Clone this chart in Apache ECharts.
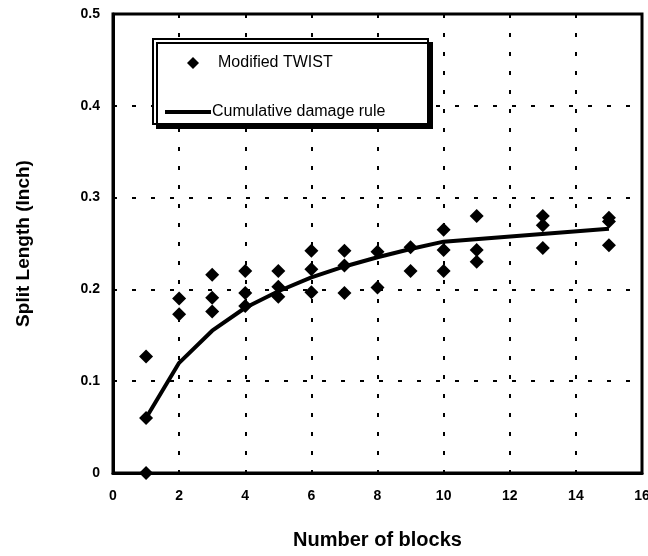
<!DOCTYPE html>
<html>
<head>
<meta charset="utf-8">
<script src="https://cdn.jsdelivr.net/npm/echarts@6/dist/echarts.min.js"></script>
<style>
html,body{margin:0;padding:0;background:#fff;}
#chart{width:648px;height:556px;}
</style>
</head>
<body>
<div id="chart"></div>
<script>
// Modified TWIST measurements: blocks and split length (inch)
const twistBlocks = [1,1,1, 2,2, 3,3,3, 4,4,4, 5,5,5, 6,6,6, 7,7,7, 8,8, 9,9, 10,10,10, 11,11,11, 13,13,13, 15,15,15];
const twistSplit  = [0.127,0.06,0.0, 0.19,0.173, 0.216,0.191,0.176, 0.22,0.196,0.182, 0.22,0.203,0.192, 0.242,0.222,0.197, 0.242,0.226,0.196, 0.241,0.202, 0.246,0.22, 0.265,0.243,0.22, 0.28,0.243,0.23, 0.28,0.27,0.245, 0.278,0.274,0.248];
// Cumulative damage rule curve
const ruleBlocks = [1,2,3,4,5,6,7,8,9,10,15];
const ruleSplit  = [0.06,0.12,0.155,0.18,0.198,0.213,0.225,0.235,0.244,0.252,0.266];
const seriesNames = ['Modified TWIST','Cumulative damage rule'];

const chart = echarts.init(document.getElementById('chart'), null, {renderer:'canvas'});
const font = '"Liberation Sans", Arial, sans-serif';
const dotted = {color:'#000', width:2, type:[4,15]};

chart.setOption({
  backgroundColor:'#fff',
  animation:false,
  grid:{left:113, right:6, top:14, bottom:83, show:true, borderColor:'#000', borderWidth:3,
        backgroundColor:'transparent', outerBoundsMode:'none', containLabel:false},
  xAxis:{
    type:'value', min:0, max:16, interval:2,
    name:'Number of blocks', nameLocation:'middle', nameGap:57,
    nameTextStyle:{fontFamily:font, fontWeight:'bold', fontSize:20, color:'#000'},
    axisLine:{show:true, lineStyle:{color:'#000', width:3}},
    axisTick:{show:false},
    axisLabel:{fontFamily:font, fontWeight:'bold', fontSize:14, color:'#000', margin:16},
    splitLine:{show:true, lineStyle:dotted}
  },
  yAxis:{
    type:'value', min:0, max:0.5, interval:0.1,
    name:'Split Length (Inch)', nameLocation:'middle', nameGap:80,
    nameTextStyle:{fontFamily:font, fontWeight:'bold', fontSize:19, color:'#000'},
    axisLine:{show:true, lineStyle:{color:'#000', width:3}},
    axisTick:{show:false},
    axisLabel:{fontFamily:font, fontWeight:'bold', fontSize:14, color:'#000', margin:13,
      formatter:function(v){return v===0?'0':v.toFixed(1);}},
    splitLine:{show:true, lineStyle:dotted}
  },
  graphic:[{
    type:'rect', left:152, top:38, z:50,
    shape:{width:275, height:85},
    style:{fill:'#fff', stroke:'#000', lineWidth:2, shadowColor:'#000', shadowOffsetX:4, shadowOffsetY:4, shadowBlur:0}
  }],
  legend:[{
    data:[{name:seriesNames[0], icon:'diamond'}],
    left:182, top:50, z:60, itemWidth:12, itemHeight:12,
    textStyle:{fontFamily:font, fontSize:16, color:'#000', padding:[0,0,0,14]}
  },{
    data:[{name:seriesNames[1], icon:'rect'}],
    left:160, top:99, z:60, itemWidth:46, itemHeight:4,
    textStyle:{fontFamily:font, fontSize:16, color:'#000', padding:[0,0,0,-4]}
  }],
  series:[{
    name:seriesNames[0], type:'scatter', symbol:'diamond', symbolSize:14,
    itemStyle:{color:'#000', opacity:1}, z:5, clip:false,
    data:twistBlocks.map((x,i)=>[x,twistSplit[i]])
  },{
    name:seriesNames[1], type:'line', symbol:'none', smooth:false,
    lineStyle:{color:'#000', width:4}, itemStyle:{color:'#000'}, z:4,
    data:ruleBlocks.map((x,i)=>[x,ruleSplit[i]])
  }]
});
</script>
</body>
</html>
